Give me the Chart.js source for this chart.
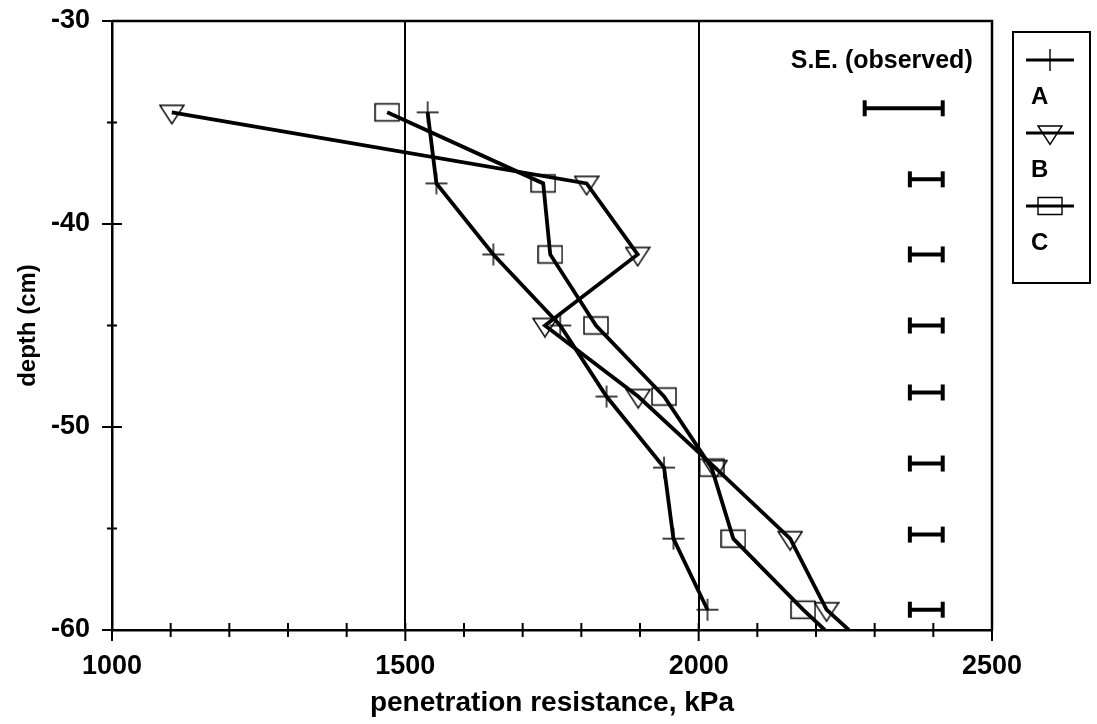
<!DOCTYPE html>
<html>
<head>
<meta charset="utf-8">
<title>Penetration resistance with depth</title>
<script src="https://cdn.jsdelivr.net/npm/chart.js@4/dist/chart.umd.min.js"></script>
<style>
  html, body { margin: 0; padding: 0; background: #fff; }
  #depth-chart { display: block; }
</style>
</head>
<body>
<canvas id="depth-chart" width="1097" height="724"></canvas>
<script>
// sampling depths (cm) and penetration resistance (kPa) per treatment
const depths = [-34.5, -38, -41.5, -45, -48.5, -52, -55.5, -59];
const resistA = [1538, 1553, 1650, 1764, 1843, 1941, 1957, 2015];
const resistB = [1102, 1809, 1896, 1738, 1897, 2028, 2156, 2218];
const resistC = [1469, 1735, 1747, 1825, 1941, 2022, 2059, 2178];

// B and C traces carry on down to the bottom axis
const tailDepth = -60;
const tailB = 2256;
const tailC = 2215;

// observed standard error bars
const seDepths = [-34.3, -37.8, -41.5, -45, -48.3, -51.8, -55.3, -59];
const seLeft = [2283, 2360, 2360, 2360, 2360, 2360, 2360, 2360];
const seRight = [2416, 2416, 2416, 2416, 2416, 2416, 2416, 2416];

const seriesNames = ['A', 'B', 'C'];
const xRange = [1000, 2500];
const yRange = [-60, -30];
const xGridValues = [1500, 2000];

const FONT = '"Liberation Sans", Arial, Helvetica, sans-serif';

function markerCanvas(kind) {
    const c = document.createElement('canvas');
    c.width = 26;
    c.height = 26;
    const g = c.getContext('2d');
    g.strokeStyle = '#000';
    g.lineWidth = 1.4;
    g.beginPath();
    if (kind === 'plus') {
        g.moveTo(2, 13); g.lineTo(24, 13);
        g.moveTo(13, 2); g.lineTo(13, 24);
    }
    if (kind === 'tri') {
        g.moveTo(1, 6); g.lineTo(25, 6); g.lineTo(13, 24.5); g.closePath();
    }
    if (kind === 'box') {
        g.rect(1, 4.5, 24, 17);
    }
    g.stroke();
    return c;
}

const markers = [markerCanvas('plus'), markerCanvas('tri'), markerCanvas('box')];

function toPoints(values, tail) {
    const pts = values.map((v, i) => ({ x: v, y: depths[i] }));
    if (tail !== undefined) pts.push({ x: tail, y: tailDepth });
    return pts;
}

function seriesDataset(i, values, tail) {
    return {
        label: seriesNames[i],
        data: toPoints(values, tail),
        showLine: true,
        borderColor: '#000',
        borderWidth: 3.8,
        tension: 0,
        pointStyle: markers[i],
        pointRadius: ctx => ctx.dataIndex < depths.length ? 8 : 0,
        pointHoverRadius: 8,
        pointBackgroundColor: 'transparent',
        pointBorderColor: '#000'
    };
}

const seDatasets = seDepths.map((d, i) => ({
    label: 'S.E.',
    data: [{ x: seLeft[i], y: d }, { x: seRight[i], y: d }],
    showLine: true,
    borderColor: '#000',
    borderWidth: 4,
    pointStyle: 'line',
    pointRotation: 90,
    pointRadius: 8,
    pointBorderWidth: 4,
    pointBorderColor: '#000'
}));

// top/right frame and ticks that cross the axes
const frameAndTicks = {
    id: 'frameAndTicks',
    afterDraw(chart) {
        const { ctx, chartArea: a, scales: { x, y } } = chart;
        ctx.save();
        ctx.strokeStyle = '#000';
        ctx.lineWidth = 2.5;
        ctx.beginPath();
        ctx.moveTo(a.left, a.top);
        ctx.lineTo(a.right, a.top);
        ctx.lineTo(a.right, a.bottom);
        ctx.stroke();

        ctx.lineWidth = 2;
        ctx.beginPath();
        for (let v = xRange[0]; v <= xRange[1]; v += 100) {
            const px = x.getPixelForValue(v);
            const major = v % 500 === 0;
            ctx.moveTo(px, a.bottom - 7);
            ctx.lineTo(px, a.bottom + (major ? 11 : 7));
        }
        for (let v = yRange[0]; v <= yRange[1]; v += 5) {
            const py = y.getPixelForValue(v);
            const len = v % 10 === 0 ? 10 : 5;
            ctx.moveTo(a.left - len, py);
            ctx.lineTo(a.left + len, py);
        }
        ctx.stroke();
        ctx.restore();
    }
};

// boxed legend: symbol above its letter, plus the S.E. caption
const sideLegend = {
    id: 'sideLegend',
    afterDraw(chart) {
        const { ctx, scales: { x, y } } = chart;
        ctx.save();
        ctx.fillStyle = '#000';
        ctx.font = 'bold 25px ' + FONT;
        ctx.textAlign = 'right';
        ctx.textBaseline = 'middle';
        ctx.fillText('S.E. (observed)', x.getPixelForValue(2416) + 30, y.getPixelForValue(-32.0));

        const box = { left: 1013, top: 32, right: 1090, bottom: 283 };
        ctx.strokeStyle = '#000';
        ctx.lineWidth = 2;
        ctx.strokeRect(box.left, box.top, box.right - box.left, box.bottom - box.top);

        const cx = 1050;
        seriesNames.forEach((name, i) => {
            const sy = 60 + i * 73;
            ctx.lineWidth = 3;
            ctx.beginPath();
            ctx.moveTo(cx - 24, sy);
            ctx.lineTo(cx + 24, sy);
            ctx.stroke();
            const m = markers[i];
            ctx.drawImage(m, cx - m.width / 2, sy - m.height / 2);
            ctx.textAlign = 'left';
            ctx.font = 'bold 24px ' + FONT;
            ctx.fillText(name, 1031, sy + 37);
        });
        ctx.restore();
    }
};

new Chart(document.getElementById('depth-chart').getContext('2d'), {
    type: 'scatter',
    data: {
        datasets: [
            seriesDataset(0, resistA),
            seriesDataset(1, resistB, tailB),
            seriesDataset(2, resistC, tailC),
            ...seDatasets
        ]
    },
    options: {
        responsive: false,
        animation: false,
        devicePixelRatio: 1,
        layout: { padding: { left: 0, right: 105, top: 21, bottom: 0 } },
        plugins: {
            legend: { display: false },
            tooltip: { enabled: false }
        },
        scales: {
            x: {
                type: 'linear',
                min: xRange[0],
                max: xRange[1],
                afterFit: s => { s.height = 94; s.paddingLeft = 0; s.paddingRight = 0; },
                border: { display: true, color: '#000', width: 2.5 },
                grid: {
                    drawTicks: false,
                    lineWidth: 2,
                    color: c => xGridValues.includes(c.tick && c.tick.value) ? '#000' : 'rgba(0,0,0,0)'
                },
                ticks: {
                    stepSize: 100,
                    autoSkip: false,
                    maxRotation: 0,
                    padding: 20,
                    color: '#000',
                    font: { family: FONT, size: 27, weight: 'bold' },
                    callback: v => v % 500 === 0 ? v : ''
                },
                title: {
                    display: true,
                    text: 'penetration resistance, kPa',
                    color: '#000',
                    font: { family: FONT, size: 28, weight: 'bold' },
                    padding: { top: 0, bottom: 4 }
                }
            },
            y: {
                type: 'linear',
                min: yRange[0],
                max: yRange[1],
                afterFit: s => { s.width = 112; s.paddingTop = 0; s.paddingBottom = 0; },
                border: { display: true, color: '#000', width: 2.5 },
                grid: { display: false, drawTicks: false },
                ticks: {
                    stepSize: 5,
                    padding: 22,
                    color: '#000',
                    font: { family: FONT, size: 27, weight: 'bold' },
                    callback: v => v % 10 === 0 ? v : ''
                },
                title: {
                    display: true,
                    text: 'depth (cm)',
                    color: '#000',
                    font: { family: FONT, size: 24, weight: 'bold' },
                    padding: { top: 14, bottom: 0 }
                }
            }
        }
    },
    plugins: [frameAndTicks, sideLegend]
});
</script>
</body>
</html>
